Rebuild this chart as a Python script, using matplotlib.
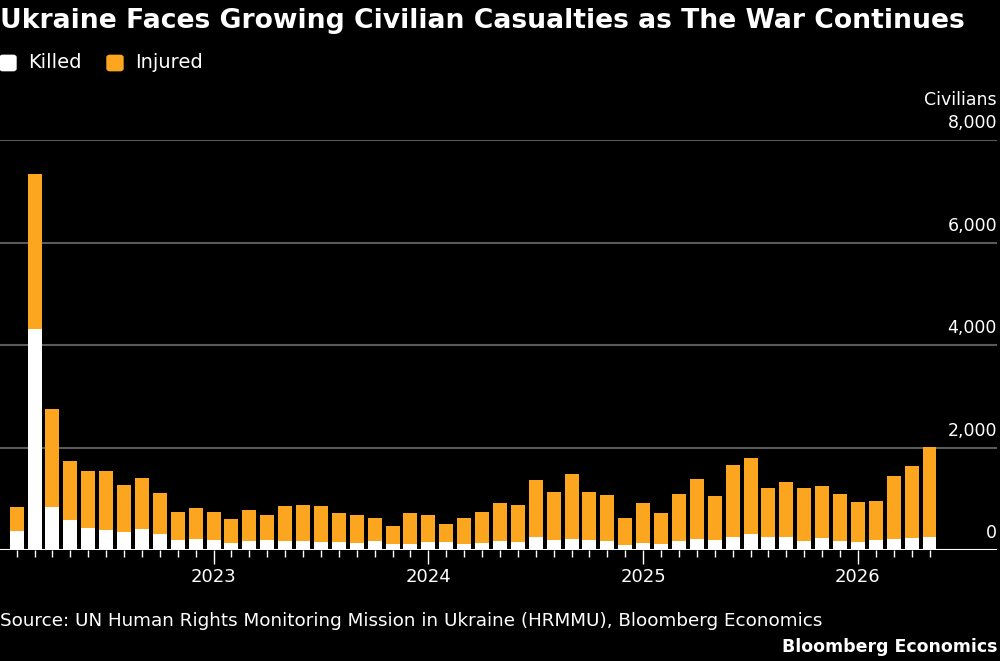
"""
Ukraine civilian casualties, monthly stacked bars (Bloomberg style).
"""

import pandas as pd
import matplotlib
matplotlib.use("Agg")
import matplotlib.pyplot as plt
from matplotlib.patches import FancyBboxPatch

# monthly data, Feb 2022 .. May 2026
months = pd.date_range("2022-02-01", periods=52, freq="MS")
killed = [377, 4306, 845, 592, 436, 390, 351, 410, 319, 195, 215, 202,
          143, 182, 195, 176, 182, 163, 150, 137, 176, 111, 117, 163,
          150, 120, 137, 176, 156, 254, 195, 208, 195, 169, 98, 143,
          124, 169, 215, 189, 254, 306, 260, 254, 182, 234, 182, 163,
          195, 215, 241, 254]
injured = [468, 3031, 1906, 1145, 1105, 1151, 917, 988, 793, 540, 605, 539,
           462, 595, 482, 682, 689, 689, 566, 552, 442, 364, 599, 526,
           364, 500, 601, 735, 728, 1112, 943, 1275, 937, 911, 533, 768,
           592, 924, 1177, 858, 1411, 1483, 950, 1066, 1021, 1008, 904, 767,
           761, 1235, 1391, 1749]
y_ticks = [0, 2000, 4000, 6000, 8000]

WHITE = "#ffffff"
ORANGE = "#fba61e"
GRID = "#5a5a5a"

fig = plt.figure(figsize=(10, 6.61), dpi=100, facecolor="black")
ax = fig.add_axes([0.0, 1 - 550 / 661, 0.997, (550 - 140) / 661])
ax.set_facecolor("black")

x = list(range(len(months)))
ax.bar(x, killed, width=0.78, color=WHITE, zorder=3)
ax.bar(x, injured, width=0.78, bottom=killed, color=ORANGE, zorder=3)

ax.set_xlim(-0.93, 54.77)
ax.set_ylim(0, 8000)

# gridlines + right-hand labels sitting above the lines
for v in y_ticks:
    if v > 0:
        ax.axhline(v, color=GRID, lw=1.5, zorder=1)
    ax.text(1.0, v + 150, f"{v:,}", transform=ax.get_yaxis_transform(),
            ha="right", va="bottom", color=WHITE, fontsize=12.5,
            clip_on=False)
ax.text(1.0, 8000 + 600, "Civilians", transform=ax.get_yaxis_transform(),
        ha="right", va="bottom", color=WHITE, fontsize=12.5, clip_on=False)
ax.axhline(0, color=WHITE, lw=1.5, zorder=4)

for s in ax.spines.values():
    s.set_visible(False)
ax.set_yticks([])

# month ticks, longer at January with year label
ax.set_xticks(x, minor=True)
year_pos = [i for i, m in enumerate(months) if m.month == 1]
ax.set_xticks(year_pos, [str(months[i].year) for i in year_pos])
ax.tick_params(axis="x", which="minor", length=5, width=1, color=WHITE,
               direction="out")
ax.tick_params(axis="x", which="major", length=10, width=1, color=WHITE,
               labelcolor=WHITE, labelsize=13, pad=3)

# title and legend
fig.text(0.0, 0.988, "Ukraine Faces Growing Civilian Casualties as The War Continues",
         color=WHITE, fontsize=19.2, fontweight="heavy", ha="left", va="top")
for x0, col in [(0.001, WHITE), (0.108, ORANGE)]:
    fig.patches.append(FancyBboxPatch((x0, 1 - 70 / 661), 0.014, 14 / 661,
                                      boxstyle="round,pad=0.001,rounding_size=0.003",
                                      transform=fig.transFigure, color=col))
fig.text(0.028, 1 - 63 / 661, "Killed", color=WHITE, fontsize=14,
         ha="left", va="center")
fig.text(0.135, 1 - 63 / 661, "Injured", color=WHITE, fontsize=14,
         ha="left", va="center")

# footer
fig.text(0.0, 1 - 621 / 661,
         "Source: UN Human Rights Monitoring Mission in Ukraine (HRMMU), Bloomberg Economics",
         color=WHITE, fontsize=13.2, ha="left", va="center")
fig.text(0.997, 1 - 647 / 661, "Bloomberg Economics", color=WHITE,
         fontsize=12.5, fontweight="bold", ha="right", va="center")

fig.savefig("out.png", dpi=100, facecolor="black")
